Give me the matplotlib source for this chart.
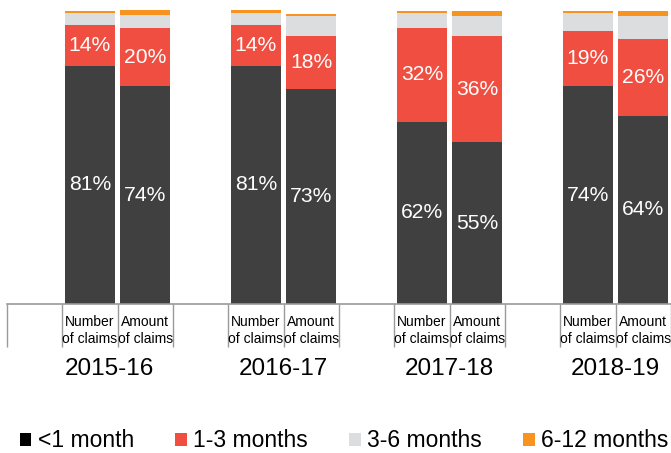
import matplotlib
matplotlib.use("Agg")
import matplotlib.pyplot as plt
from matplotlib.patches import Patch

plt.rcParams['font.family'] = ['Liberation Sans', 'DejaVu Sans']

# Share of claims by time taken to settle, per year
years = ['2015-16', '2016-17', '2017-18', '2018-19']
bar_labels = ['Number\nof claims', 'Amount\nof claims']
bands = ['<1 month', '1-3 months', '3-6 months', '6-12 months']

number_lt1 = [81, 81, 62, 74]
number_1_3 = [14, 14, 32, 19]
number_3_6 = [4.1, 4.1, 4.9, 6.0]
number_6_12 = [0.7, 0.8, 0.9, 0.7]

amount_lt1 = [74, 73, 55, 64]
amount_1_3 = [20, 18, 36, 26]
amount_3_6 = [4.2, 6.9, 6.8, 7.8]
amount_6_12 = [1.7, 0.8, 1.9, 1.8]

colors = ['#404041', '#f04e41', '#dcdddf', '#f7931e']
legend_colors = ['#000000', '#f04e41', '#dcdddf', '#f7931e']

fig = plt.figure(figsize=(6.71, 4.53), dpi=100)
ax = fig.add_axes([7 / 671, 149 / 453, 664 / 671, 294 / 453])
ax.set_xlim(0, 12)
ax.set_ylim(0, 100)
ax.axis('off')

series = [
    (number_lt1, number_1_3, number_3_6, number_6_12),
    (amount_lt1, amount_1_3, amount_3_6, amount_6_12),
]

for i, year in enumerate(years):
    for j, segs in enumerate(series):
        x = 3 * i + 1 + j + 0.5
        bottom = 0
        for k, vals in enumerate(segs):
            v = vals[i]
            ax.bar(x, v, width=0.9, bottom=bottom, color=colors[k], linewidth=0)
            if k < 2:
                ax.text(x, bottom + v / 2, f'{v:.0f}%', color='white',
                        fontsize=15.2, ha='center', va='center')
            bottom += v
        top, bot = bar_labels[j].split('\n')
        ax.text(x, -6.1, top, fontsize=10, ha='center', va='center', clip_on=False)
        ax.text(x, -11.9, bot, fontsize=10, ha='center', va='center', clip_on=False)
    ax.text(3 * i + 2 - (0.15 if i == 0 else 0), -22.1, year, fontsize=17.5,
            ha='center', va='center', clip_on=False)

# table-style baseline and cell dividers
ax.axhline(0, color='#9a9a9a', lw=1.2, clip_on=False)
ax.vlines(range(13), -14.6, 0, color='#9a9a9a', lw=1.0, clip_on=False)

handles = [Patch(facecolor=c, linewidth=0) for c in legend_colors]
fig.legend(handles, bands, loc='center', bbox_to_anchor=(0.513, 0.027), ncol=4,
           frameon=False, fontsize=16.5, handlelength=0.5, handleheight=0.5,
           handletextpad=0.28, columnspacing=1.8, borderaxespad=0, borderpad=0)

fig.savefig('out.png', dpi=100)
